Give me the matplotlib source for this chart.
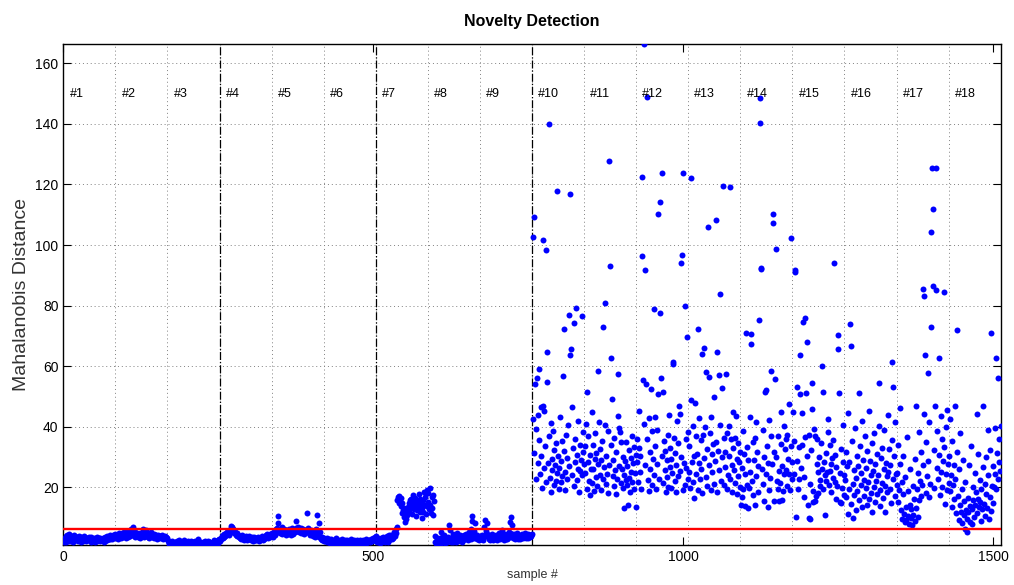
import matplotlib
matplotlib.use('Agg')
import matplotlib.pyplot as plt
import numpy as np
from matplotlib.ticker import MultipleLocator

plt.rcParams['font.family'] = ['Liberation Sans', 'DejaVu Sans']

# samples per test condition, 18 conditions
seg_len = 84
n_segs = 18
n_train_segs = 9        # conditions #1..#9 are the baseline (training) phases
threshold = 6.1

# Mahalanobis distance per sample, read per condition (#1 .. #18)
s1 = [2.1, 3.4, 2.6, 1.8, 3.9, 4.2, 2.9, 3.1, 2.4, 4.5, 3.6, 2.2, 3.0, 3.8, 2.7, 1.9, 3.3, 4.1, 2.5, 3.2,
      2.8, 3.7, 2.3, 3.5, 4.0, 2.6, 3.1, 2.0, 3.6, 2.9, 3.3, 2.4, 3.9, 2.7, 3.0, 2.2, 3.4, 2.8, 3.1, 2.5,
      3.7, 2.9, 3.2, 2.1, 3.5, 2.6, 3.0, 2.4, 3.3, 2.8, 2.0, 3.1, 2.7, 3.6, 2.3, 2.9, 3.2, 2.5, 3.4, 2.2,
      2.8, 3.0, 2.6, 3.3, 2.1, 2.9, 3.5, 2.4, 3.1, 2.7, 3.8, 3.2, 2.8, 3.6, 4.1, 3.0, 3.4, 2.9, 3.7, 4.3,
      3.3, 3.9, 4.6, 3.5]
s2 = [3.2, 4.1, 3.6, 4.4, 3.0, 4.8, 3.9, 4.2, 3.4, 5.0, 4.6, 3.7, 4.3, 5.2, 3.8, 4.5, 3.3, 4.9, 5.4, 4.0,
      3.6, 4.7, 5.1, 3.9, 4.4, 6.2, 5.6, 6.9, 4.8, 4.1, 5.3, 3.7, 4.6, 4.2, 5.0, 3.5, 4.3, 3.9, 4.8, 3.4,
      4.1, 4.5, 3.8, 5.2, 6.1, 4.7, 3.6, 4.0, 4.4, 5.8, 4.9, 3.7, 4.2, 3.3, 4.6, 3.9, 5.1, 4.3, 3.5, 4.0,
      3.8, 4.5, 3.2, 4.1, 3.6, 4.4, 3.0, 3.9, 4.2, 3.4, 3.7, 4.0, 3.1, 3.8, 3.5, 4.3, 2.9, 3.6, 3.3, 4.0,
      3.1, 3.7, 3.4, 2.8]
s3 = [2.4, 1.8, 1.3, 2.0, 1.6, 1.1, 1.9, 2.3, 1.4, 1.7, 1.2, 2.1, 1.5, 1.0, 1.8, 2.2, 1.3, 1.6, 2.5, 1.9,
      1.4, 1.1, 1.7, 2.0, 1.5, 2.6, 1.2, 1.8, 2.1, 1.4, 1.6, 1.0, 2.3, 1.7, 1.3, 1.9, 1.5, 2.4, 1.2, 1.8,
      1.6, 2.0, 1.1, 1.4, 2.2, 1.7, 1.3, 1.9, 2.8, 1.5, 1.2, 1.8, 2.1, 1.4, 1.6, 1.1, 2.0, 1.7, 1.3, 2.3,
      1.5, 1.9, 1.2, 1.6, 2.4, 1.4, 1.8, 1.1, 2.1, 1.5, 1.7, 1.3, 2.0, 1.6, 2.7, 1.4, 1.9, 2.2, 1.2, 1.8,
      2.5, 1.6, 2.9, 2.3]
s4 = [2.6, 3.3, 2.9, 3.8, 3.1, 4.2, 3.6, 4.5, 3.9, 4.8, 4.3, 5.1, 4.6, 5.6, 5.0, 4.4, 5.9, 6.4, 7.2, 6.8,
      6.1, 5.5, 5.8, 4.9, 5.3, 4.6, 4.1, 4.8, 3.9, 4.4, 3.5, 4.0, 3.2, 3.7, 2.8, 3.4, 4.1, 3.0, 3.6, 2.7,
      3.3, 3.9, 2.9, 3.5, 2.5, 3.1, 3.8, 2.8, 3.4, 2.6, 3.2, 2.9, 3.7, 2.4, 3.0, 3.5, 2.7, 3.3, 2.5, 3.1,
      2.8, 3.6, 2.3, 3.0, 2.6, 3.4, 2.9, 3.8, 3.2, 2.7, 3.5, 3.0, 3.9, 3.3, 4.2, 3.6, 4.5, 3.8, 3.1, 4.0,
      4.7, 3.5, 4.3, 4.9]
s5 = [4.1, 3.6, 4.8, 5.3, 4.4, 5.9, 6.2, 5.1, 6.6, 10.5, 8.1, 5.7, 4.9, 6.0, 5.4, 4.6, 7.0, 5.8, 5.2, 6.3,
      4.8, 5.5, 4.3, 5.9, 5.0, 4.5, 5.6, 6.1, 4.9, 5.3, 4.2, 5.7, 6.4, 5.1, 4.7, 5.8, 6.0, 5.4, 6.7, 8.9,
      6.3, 5.6, 6.9, 5.2, 6.1, 5.8, 4.9, 6.5, 5.5, 6.2, 5.0, 5.9, 4.6, 5.4, 6.0, 5.1, 11.6, 5.7, 6.4, 4.8,
      5.3, 4.4, 5.9, 4.7, 5.2, 3.9, 4.6, 5.5, 4.1, 3.6, 4.9, 6.3, 10.9, 5.8, 4.3, 3.7, 8.1, 5.1, 3.2, 2.8,
      3.5, 2.6, 3.0, 2.4]
s6 = [3.1, 2.5, 2.9, 2.2, 3.4, 1.8, 2.6, 2.0, 3.0, 1.6, 2.4, 2.8, 1.9, 2.3, 1.5, 2.7, 2.1, 1.7, 2.5, 3.2,
      1.9, 2.2, 1.4, 2.6, 2.0, 1.8, 2.4, 1.6, 2.9, 2.1, 1.5, 2.3, 1.9, 2.7, 1.7, 2.2, 1.3, 2.5, 2.0, 1.8,
      2.4, 1.6, 2.1, 2.8, 1.9, 1.5, 2.3, 1.7, 2.6, 2.0, 1.4, 2.2, 1.8, 2.5, 1.6, 2.1, 1.9, 2.7, 1.5, 2.3,
      1.8, 2.0, 2.6, 1.7, 2.4, 1.9, 2.2, 1.6, 2.8, 2.1, 1.8, 2.5, 2.3, 1.9, 2.7, 2.2, 3.0, 2.4, 2.8, 3.3,
      2.6, 3.5, 2.9, 3.8]
s7 = [2.3, 1.8, 2.7, 3.1, 2.2, 2.9, 1.6, 2.5, 3.4, 2.0, 2.8, 3.6, 2.4, 3.0, 1.9, 3.3, 2.6, 3.8, 2.1, 3.5,
      4.1, 2.7, 3.2, 4.4, 3.6, 2.9, 4.0, 3.4, 5.2, 4.6, 3.9, 6.1, 5.0, 7.0, 15.8, 16.9, 14.7, 17.2, 15.3, 13.9,
      16.4, 11.4, 14.8, 12.6, 10.2, 13.1, 8.6, 11.9, 9.5, 12.3, 10.8, 13.6, 14.9, 12.2, 15.7, 13.4, 16.2, 11.1, 14.1, 17.5,
      12.9, 15.1, 13.8, 16.6, 10.6, 14.4, 12.5, 15.4, 13.2, 17.8, 16.0, 11.7, 14.6, 9.8, 13.0, 15.9, 12.0, 18.4, 14.2, 16.8,
      11.3, 13.7, 19.1, 15.2]
s8 = [18.2, 12.7, 19.8, 14.3, 11.5, 16.9, 13.1, 17.4, 10.9, 15.6, 3.8, 2.1, 1.5, 2.8, 1.2, 2.4, 3.2, 1.7, 2.6, 1.4,
      5.3, 2.0, 3.5, 1.8, 2.9, 4.2, 2.3, 1.6, 3.1, 2.5, 1.9, 3.7, 2.2, 7.6, 5.9, 2.7, 3.4, 1.8, 2.6, 4.5,
      2.1, 3.0, 2.4, 3.8, 1.9, 2.7, 4.9, 3.3, 2.2, 3.6, 2.8, 4.1, 2.5, 3.2, 2.0, 3.9, 2.6, 3.4, 4.4, 2.9,
      3.1, 4.7, 3.5, 2.7, 4.0, 3.3, 5.1, 3.8, 2.9, 6.3, 10.5, 8.9, 4.6, 3.2, 5.5, 8.1, 4.3, 3.6, 2.8, 4.2,
      3.1, 3.7, 2.6, 3.4]
s9 = [3.4, 2.8, 4.1, 3.2, 2.6, 3.9, 7.0, 4.3, 9.2, 5.6, 8.1, 4.7, 3.5, 2.9, 4.2, 3.3, 2.7, 3.8, 4.5, 3.1,
      2.5, 3.6, 4.0, 2.8, 3.4, 4.4, 3.0, 2.6, 3.7, 4.8, 3.2, 2.9, 3.9, 4.3, 3.5, 5.9, 4.1, 3.3, 2.7, 3.8,
      4.6, 3.0, 3.6, 2.8, 4.2, 3.4, 5.2, 8.6, 4.9, 10.3, 7.4, 4.5, 3.9, 3.2, 4.7, 3.6, 2.9, 4.1, 3.3, 4.8,
      3.7, 3.0, 4.4, 3.5, 2.8, 4.0, 3.3, 4.6, 3.8, 3.1, 4.3, 3.6, 4.9, 3.4, 4.1, 3.7, 4.5, 3.2, 3.9, 4.4,
      3.5, 4.2, 3.8, 4.6]
s10 = [42.5, 102.6, 31.4, 109.2, 54.0, 22.8, 39.3, 56.0, 28.1, 44.0, 35.6, 59.0, 24.3, 46.6, 30.2, 19.8, 47.0, 101.6, 26.5, 45.3,
       33.7, 98.3, 21.6, 64.8, 54.9, 27.9, 140.0, 36.8, 23.1, 41.2, 18.6, 29.4, 25.7, 38.5, 20.9, 32.3, 27.2, 22.0, 34.6, 24.8,
       117.9, 30.5, 19.4, 26.3, 43.1, 21.8, 28.7, 35.2, 23.6, 56.8, 31.9, 72.3, 25.1, 19.0, 37.4, 29.8, 22.7, 40.6, 27.0, 76.9,
       63.7, 116.7, 65.7, 46.6, 24.2, 33.1, 20.4, 74.2, 28.4, 36.0, 79.3, 22.5, 30.8, 26.1, 41.9, 18.3, 34.0, 25.4, 29.1, 76.7,
       23.9, 38.2, 31.5, 27.6]
s11 = [33.5, 24.8, 41.0, 19.6, 51.6, 28.3, 36.9, 22.1, 30.7, 17.4, 26.2, 44.8, 21.3, 34.1, 25.9, 18.7, 29.5, 37.8, 23.4, 31.2,
       20.5, 27.7, 58.5, 41.7, 24.0, 32.6, 19.2, 28.9, 35.4, 22.6, 73.0, 26.8, 40.6, 80.7, 21.0, 30.3, 24.5, 38.6, 18.1, 27.4,
       127.7, 93.2, 62.6, 33.9, 49.2, 23.7, 29.0, 20.3, 36.3, 25.6, 17.8, 31.8, 22.9, 43.5, 57.3, 27.1, 39.6, 38.4, 21.5, 34.8,
       26.0, 19.9, 30.1, 24.2, 13.3, 28.6, 22.3, 35.0, 20.7, 26.9, 14.1, 32.2, 23.0, 18.5, 29.7, 25.2, 37.1, 21.8, 27.9, 19.3,
       33.3, 24.6, 13.5, 30.6]
s12 = [28.4, 36.1, 21.7, 33.0, 45.3, 24.9, 30.2, 19.5, 96.4, 122.5, 55.4, 166.3, 41.0, 91.7, 27.3, 54.1, 149.0, 35.8, 22.4, 43.0,
       18.8, 31.6, 26.0, 52.3, 20.9, 38.7, 29.5, 78.8, 24.1, 43.2, 33.7, 19.6, 39.0, 27.8, 110.3, 50.8, 22.6, 114.3, 77.4, 56.2,
       30.5, 123.7, 21.3, 51.6, 35.4, 25.7, 32.0, 18.4, 28.9, 23.5, 37.2, 20.1, 44.0, 26.6, 33.1, 19.8, 29.3, 24.7, 61.5, 60.7,
       36.4, 22.0, 31.3, 18.5, 27.2, 41.8, 23.8, 34.6, 47.0, 44.2, 25.3, 30.0, 94.0, 96.7, 123.7, 19.0, 28.1, 79.9, 20.6, 35.9,
       26.4, 69.7, 38.1, 22.9]
s13 = [25.2, 33.8, 19.8, 122.2, 48.7, 28.5, 40.1, 21.9, 30.5, 16.5, 47.7, 37.0, 24.3, 31.0, 19.1, 72.3, 28.0, 43.0, 22.7, 35.6,
       26.1, 64.0, 18.2, 37.4, 29.6, 66.1, 40.0, 23.4, 58.2, 32.6, 20.5, 105.8, 56.3, 27.3, 37.8, 19.0, 43.1, 30.9, 24.9, 34.3,
       21.2, 49.7, 28.7, 35.0, 108.2, 18.6, 64.8, 32.0, 57.0, 25.8, 83.7, 40.5, 22.1, 52.9, 29.9, 119.6, 36.2, 20.8, 31.5, 26.7,
       57.5, 19.5, 38.0, 24.0, 30.2, 40.2, 22.6, 119.2, 35.9, 27.5, 18.5, 33.1, 45.0, 25.6, 36.3, 21.4, 43.5, 29.2, 17.9, 34.7,
       23.7, 28.4, 20.0, 31.7]
s14 = [14.2, 26.3, 16.9, 38.7, 19.4, 30.9, 13.9, 24.5, 71.0, 33.4, 20.6, 13.0, 28.9, 19.7, 43.3, 25.1, 70.5, 67.2, 22.2, 35.1,
       17.6, 29.0, 14.3, 36.4, 41.4, 23.8, 31.7, 18.3, 27.0, 75.2, 148.7, 140.2, 92.3, 92.0, 26.0, 38.9, 21.0, 30.0, 15.6, 51.6,
       52.0, 24.4, 33.8, 13.4, 28.0, 19.2, 42.3, 23.0, 36.8, 58.5, 27.8, 110.1, 107.4, 15.5, 31.6, 55.6, 98.7, 30.0, 22.0, 19.6,
       37.0, 25.5, 15.4, 21.4, 34.2, 45.0, 15.7, 27.1, 18.9, 40.3, 24.3, 32.5, 36.0, 25.8, 37.2, 20.4, 29.3, 24.3, 47.6, 19.0,
       33.6, 102.3, 22.8, 28.2]
s15 = [45.0, 24.3, 35.4, 91.7, 91.2, 10.3, 53.0, 28.8, 19.6, 33.2, 22.7, 63.7, 50.8, 26.4, 44.5, 34.0, 74.7, 23.5, 16.8, 36.6,
       75.8, 51.0, 30.3, 67.9, 14.2, 10.0, 37.3, 9.5, 21.0, 32.3, 46.0, 54.4, 15.0, 18.9, 39.2, 15.4, 37.0, 17.0, 27.6, 36.0,
       18.0, 25.2, 30.0, 22.4, 20.3, 34.6, 26.1, 60.1, 19.3, 51.5, 28.5, 24.0, 10.8, 31.2, 22.0, 25.0, 38.4, 42.5, 20.7, 33.9,
       25.3, 27.8, 18.5, 29.6, 23.1, 35.5, 94.2, 21.7, 30.8, 16.0, 26.8, 20.5, 65.6, 70.3, 51.0, 24.6, 15.2, 32.7, 14.8, 19.9,
       28.3, 40.7, 23.9, 17.6]
s16 = [22.3, 31.5, 16.8, 26.9, 11.2, 44.6, 19.4, 28.2, 74.0, 66.6, 14.5, 35.3, 21.1, 9.8, 25.7, 17.5, 39.6, 23.2, 12.6, 30.4,
       18.9, 27.0, 51.2, 15.8, 33.7, 20.6, 24.8, 13.4, 42.0, 29.1, 17.2, 22.5, 36.8, 19.7, 26.3, 14.0, 31.9, 21.8, 45.3, 16.2,
       28.6, 23.9, 18.1, 34.5, 12.0, 25.4, 20.0, 37.9, 15.1, 27.7, 22.0, 30.9, 17.8, 24.1, 54.4, 40.3, 19.2, 13.7, 29.8, 21.4,
       33.0, 16.5, 26.0, 38.9, 20.3, 11.8, 28.0, 23.6, 18.4, 44.0, 25.1, 32.8, 19.5, 27.3, 14.8, 61.4, 35.6, 22.7, 53.0, 30.2,
       17.0, 41.5, 24.4, 20.8]
s17 = [24.6, 15.3, 33.9, 19.0, 46.2, 27.8, 12.4, 21.7, 9.6, 17.9, 30.5, 11.2, 8.4, 23.5, 13.6, 9.1, 36.7, 10.5, 18.8, 8.0,
       14.2, 26.1, 9.8, 12.9, 7.7, 20.4, 11.0, 16.3, 8.9, 29.4, 13.1, 47.0, 19.6, 10.2, 24.7, 15.8, 38.3, 22.0, 17.1, 31.6,
       20.9, 85.5, 27.3, 44.1, 83.2, 63.7, 18.2, 35.0, 23.8, 57.9, 28.6, 16.7, 41.4, 21.2, 104.3, 73.0, 125.5, 86.5, 111.9, 32.4,
       19.8, 46.8, 125.5, 85.2, 26.5, 38.6, 22.9, 62.7, 30.8, 17.4, 43.7, 25.0, 35.8, 20.1, 28.7, 84.5, 33.2, 14.6, 39.9, 24.3,
       19.0, 45.5, 27.6, 21.5]
s18 = [30.4, 18.7, 42.6, 24.1, 13.5, 35.2, 20.8, 27.3, 16.0, 46.9, 22.6, 11.4, 72.0, 31.5, 17.2, 9.3, 25.9, 14.1, 38.0, 12.0,
       19.6, 8.1, 29.0, 10.7, 15.4, 6.2, 21.9, 12.5, 5.3, 9.4, 16.6, 11.7, 27.5, 8.6, 13.8, 33.6, 12.8, 7.9, 20.1, 15.7,
       10.2, 24.8, 14.0, 18.5, 44.3, 11.5, 16.0, 31.0, 13.5, 22.4, 15.2, 9.0, 19.3, 12.8, 26.7, 47.0, 14.6, 21.2, 10.5, 17.8,
       29.9, 13.2, 39.0, 24.0, 9.6, 16.9, 32.2, 12.1, 71.0, 20.5, 27.0, 14.9, 20.2, 24.4, 39.6, 19.5, 62.7, 31.4, 56.0, 22.7,
       36.0, 28.5, 25.5, 40.1]

dist = np.concatenate([s1, s2, s3, s4, s5, s6, s7, s8, s9,
                       s10, s11, s12, s13, s14, s15, s16, s17, s18])
samples = np.arange(1, len(dist) + 1)
labels = ['#%d' % (k + 1) for k in range(n_segs)]

fig = plt.figure(figsize=(10.14, 5.85), dpi=100)
ax = fig.add_axes([0.0624, 0.0684, 0.9245, 0.8559])

ax.plot(samples, dist, 'o', color='#0000ff', ms=4.3, mec='none', zorder=3)
ax.axhline(threshold, color='red', lw=1.7, zorder=4)

# boundaries between the baseline phases (every 3 conditions)
for b in range(3 * seg_len, n_train_segs * seg_len + 1, 3 * seg_len):
    ax.axvline(b, color='black', ls='-.', lw=0.9, zorder=2)

ax.set_xlim(0, len(dist))
ax.set_ylim(dist.min() - 0.05, dist.max())

for k, lab in enumerate(labels):
    ax.text(k * seg_len + 10, 150, lab, ha='left', va='center', fontsize=9)

ax.set_xticks([0, 500, 1000, 1500])
ax.xaxis.set_minor_locator(MultipleLocator(seg_len))
ax.yaxis.set_major_locator(MultipleLocator(20))
ax.grid(which='minor', axis='x', ls=(0, (1, 3)), color='#808080', lw=0.7)
ax.grid(which='major', axis='y', ls=(0, (1, 3)), color='#808080', lw=0.7)
ax.tick_params(which='major', direction='in', length=5.5, top=True, right=True, labelsize=10)
ax.tick_params(which='minor', length=0)
for sp in ax.spines.values():
    sp.set_linewidth(1.0)

ax.set_title('Novelty Detection', fontsize=11.5, fontweight='bold', pad=13)
ax.set_xlabel('sample #', fontsize=9, color='#333333', labelpad=4)
ax.set_ylabel('Mahalanobis Distance', fontsize=14, color='#333333', labelpad=4)

plt.savefig('out.png', dpi=100)
